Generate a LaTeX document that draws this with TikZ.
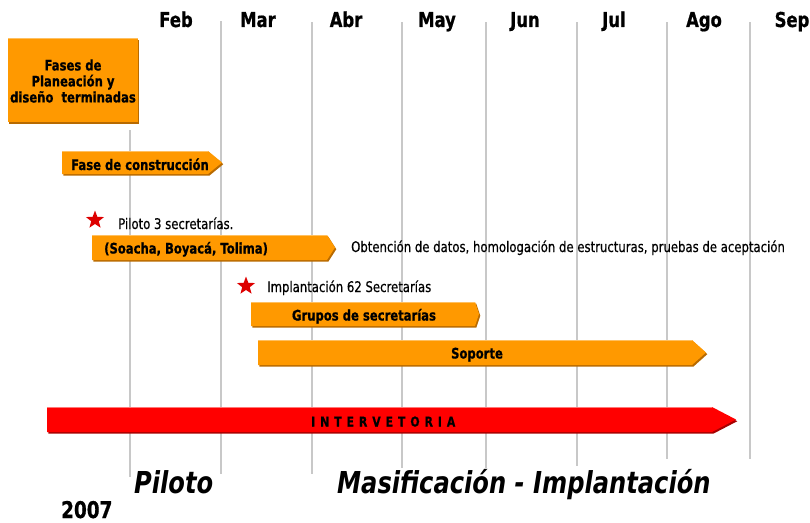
\documentclass[tikz,border=0pt]{standalone}
\usepackage{fontspec}
\setmainfont{DejaVu Sans}[FakeStretch=0.8, BoldFeatures={FakeBold=0.8}]
\newfontfamily\notefont{DejaVu Sans}[FakeStretch=0.8, FakeBold=0.5]
\usetikzlibrary{shapes.geometric}
\definecolor{barorange}{HTML}{FF9900}
\definecolor{barshade}{HTML}{B86A00}
\definecolor{barlight}{HTML}{FFC060}
\definecolor{barred}{HTML}{FF0000}
\definecolor{redshade}{HTML}{A80000}
\definecolor{redlight}{HTML}{FF7878}
\definecolor{gridgray}{HTML}{C8C8C8}
\definecolor{starred}{HTML}{DD0000}
\newcommand\tlbar[7]{% #1 fill, #2 shade, #3 x0, #4 y0, #5 xs, #6 y1, #7 tip
  \fill[#2] ([xshift=1.3pt,yshift=-1.7pt]#3,#4) -- ([xshift=1.3pt,yshift=-1.7pt]#5,#4) -- ([xshift=1.3pt,yshift=-1.7pt]#7,{(#4+#6)/2}) -- ([xshift=1.3pt,yshift=-1.7pt]#5,#6) -- ([xshift=1.3pt,yshift=-1.7pt]#3,#6) -- cycle;
  \fill[#1] (#3,#4) -- (#5,#4) -- (#7,{(#4+#6)/2}) -- (#5,#6) -- (#3,#6) -- cycle;}
\newcommand\ivsp{\hspace{5.0pt}}
\begin{document}
\begin{tikzpicture}[x=1pt,y=-1pt,
  month/.style={font=\fontsize{20.5}{22}\selectfont\bfseries, anchor=base, inner sep=0},
  bartext/.style={font=\fontsize{14.5}{16}\selectfont\bfseries, inner sep=0},
  note/.style={font=\fontsize{14.6}{16}\selectfont\notefont, anchor=base west, inner sep=0},
  phase/.style={font=\fontsize{30.2}{32}\selectfont\bfseries\itshape, anchor=base west, inner sep=0},
  gline/.style={draw=gridgray, line width=1.3pt},
  mark star/.style={star, star points=5, star point ratio=2.4, fill=starred, minimum size=19pt, inner sep=0}]
\useasboundingbox (0,0) rectangle (810,522);
% grid lines
\draw[gline] (130,130) -- (130,477);
\draw[gline] (221,21) -- (221,474);
\draw[gline] (312,22) -- (312,474);
\draw[gline] (402,22) -- (402,468);
\draw[gline] (486,22) -- (486,468);
\draw[gline] (577,22) -- (577,466);
\draw[gline] (667,22) -- (667,459);
\draw[gline] (750,22) -- (750,459);
% months
\node[month] (feb) at (176,27) {Feb};
\node[month] (mar) at (258,27) {Mar};
\node[month] (abr) at (346,27) {Abr};
\node[month] (may) at (437,27) {May};
\node[month] (jun) at (525,27) {Jun};
\node[month] (jul) at (614,27) {Jul};
\node[month] (ago) at (704,27) {Ago};
\node[month] (sep) at (792,27) {Sep};
% Fases box
\fill[barshade] (9.3,39.7) rectangle (139.3,123.7);
\fill[barorange] (8,38) rectangle (138,122);
\draw[barlight, line width=0.8pt] (8,38.5) -- (138,38.5);
\node[bartext, align=center, font=\fontsize{14.5}{16}\selectfont\bfseries] (fases) at (73,81) {Fases de\\Planeación y\\diseño\ \ terminadas};
% Fase de construccion
\tlbar{barorange}{barshade}{62}{151}{208}{174}{222}
\draw[barlight, line width=0.8pt] (62,151.5) -- (208,151.5);
\node[bartext, anchor=base west] (constr) at (71,170) {Fase de construcción};
% Piloto 3 secretarias
\node[mark star] (star1) at (95,220) {};
\node[note] (pil3) at (118,229) {Piloto 3 secretarías.};
\tlbar{barorange}{barshade}{92}{235}{327}{260}{335}
\draw[barlight, line width=0.8pt] (92,235.5) -- (327,235.5);
\node[bartext, anchor=base west] (soacha) at (104,253.5) {(Soacha, Boyacá, Tolima)};
\node[note] (obt) at (351,252) {Obtención de datos, homologación de estructuras, pruebas de aceptación};
% Implantacion
\node[mark star] (star2) at (246,286) {};
\node[note] (impl) at (267,292) {Implantación 62 Secretarías};
\tlbar{barorange}{barshade}{251}{302}{475}{326}{479}
\draw[barlight, line width=0.8pt] (251,302.5) -- (475,302.5);
\node[bartext, anchor=base] (grupos) at (364,320.5) {Grupos de secretarías};
% Soporte
\tlbar{barorange}{barshade}{258}{340}{692}{365}{706}
\draw[barlight, line width=0.8pt] (258,340.5) -- (692,340.5);
\node[bartext, anchor=base] (soporte) at (477,358.5) {Soporte};
% Intervetoria
\tlbar{barred}{redshade}{47}{407}{712}{432}{736}
\draw[redlight, line width=1pt] (47,407.5) -- (712,407.5);
\node[anchor=base west, inner sep=0, font=\fontsize{13.5}{15}\selectfont\bfseries] (interv) at (311,426.5) {I\ivsp N\ivsp T\ivsp E\ivsp R\ivsp V\ivsp E\ivsp T\ivsp O\ivsp R\ivsp I\ivsp A};
% phases
\node[phase] (piloto) at (134,493) {Piloto};
\node[phase] (masif) at (337,493) {Masificación - Implantación};
\node[anchor=base west, inner sep=0, font=\fontsize{23}{25}\selectfont\bfseries] (year) at (61,518) {2007};
\end{tikzpicture}
\end{document}
